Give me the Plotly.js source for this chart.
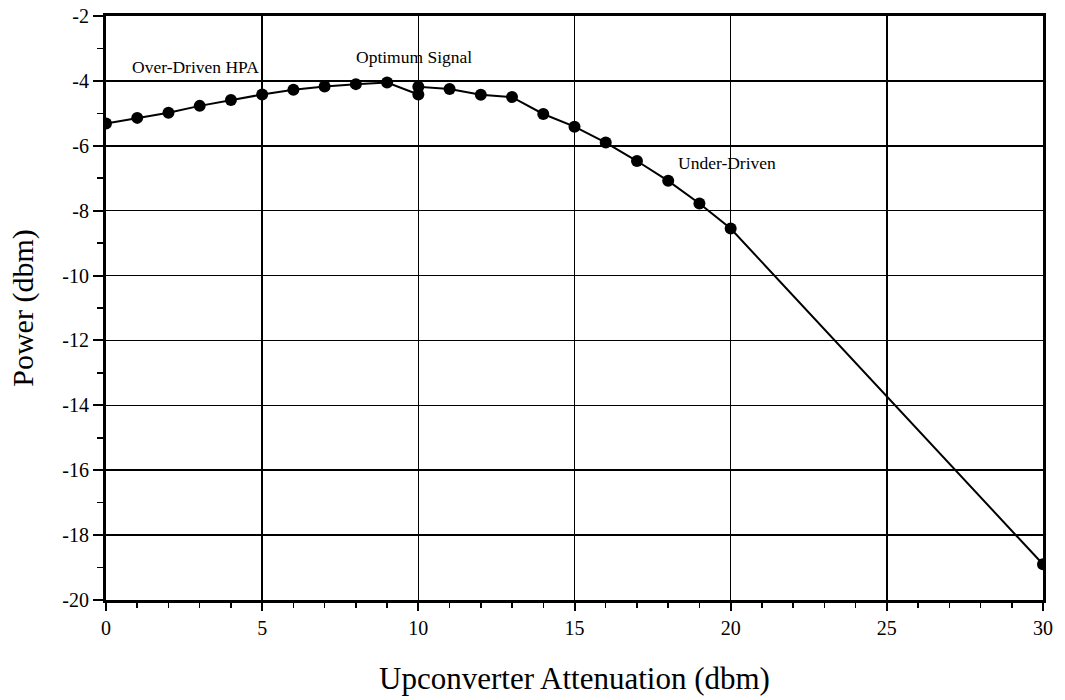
<!DOCTYPE html>
<html>
<head>
<meta charset="utf-8">
<script src="https://cdn.plot.ly/plotly-3.0.1.min.js"></script>
<style>html,body{margin:0;padding:0;background:#fff;}#chart{width:1065px;height:700px;}</style>
</head>
<body>
<div id="chart"></div>
<script>
// Upconverter attenuation (dbm) vs measured power (dbm)
var attenuation = [0, 1, 2, 3, 4, 5, 6, 7, 8, 9, 10, 10, 11, 12, 13, 14, 15, 16, 17, 18, 19, 20, 30];
var power = [-5.31, -5.14, -4.98, -4.77, -4.59, -4.42, -4.27, -4.17, -4.1, -4.05, -4.42, -4.18, -4.25, -4.43, -4.5, -5.02, -5.41, -5.9, -6.47, -7.08, -7.78, -8.55, -18.9];

var xTickVals = [0, 5, 10, 15, 20, 25, 30];
var xTickText = ["0", "5", "10", "15", "20", "25", "30"];
var yTickVals = [-2, -4, -6, -8, -10, -12, -14, -16, -18, -20];
var yTickText = ["-2", "-4", "-6", "-8", "-10", "-12", "-14", "-16", "-18", "-20"];

var noteLabels = ["Over-Driven HPA", "Optimum Signal", "Under-Driven"];
var noteX = [2.85, 9.85, 19.88];
var noteY = [-3.57, -3.26, -6.53];

var serif = "Liberation Serif, Times New Roman, serif";

var trace = {
  x: attenuation,
  y: power,
  type: "scatter",
  mode: "lines+markers",
  line: {color: "#000", width: 2},
  marker: {color: "#000", size: 12},
  cliponaxis: true,
  hoverinfo: "x+y"
};

var annotations = noteLabels.map(function (t, i) {
  return {
    text: t, x: noteX[i], y: noteY[i], xref: "x", yref: "y",
    showarrow: false, font: {family: serif, size: 17.5, color: "#000"},
    xanchor: "center", yanchor: "middle"
  };
});

var axisCommon = {
  showline: true, linecolor: "#000", linewidth: 3, mirror: true,
  showgrid: true, gridcolor: "#000", gridwidth: 1.5,
  zeroline: false, ticks: "outside", tickcolor: "#000", tickwidth: 2,
  tickfont: {family: serif, size: 20, color: "#000"}
};

var layout = {
  width: 1065, height: 700,
  margin: {l: 106, r: 22, t: 16, b: 100},
  paper_bgcolor: "#fff", plot_bgcolor: "#fff",
  showlegend: false,
  xaxis: Object.assign({}, axisCommon, {
    range: [0, 30], tickmode: "array", tickvals: xTickVals, ticktext: xTickText,
    ticklen: 8,
    minor: {tickmode: "linear", tick0: 0, dtick: 1, ticks: "outside", ticklen: 5, tickwidth: 1.5, tickcolor: "#000", showgrid: false},
    title: {text: "Upconverter Attenuation (dbm)", font: {family: serif, size: 31, color: "#000"}, standoff: 30}
  }),
  yaxis: Object.assign({}, axisCommon, {
    range: [-20, -2], tickmode: "array", tickvals: yTickVals, ticktext: yTickText,
    ticklen: 10,
    minor: {tickmode: "linear", tick0: 0, dtick: 1, ticks: "outside", ticklen: 6, tickwidth: 1.5, tickcolor: "#000", showgrid: false},
    title: {text: "Power (dbm)", font: {family: serif, size: 30, color: "#000"}, standoff: 20}
  }),
  annotations: annotations
};

Plotly.newPlot("chart", [trace], layout, {displayModeBar: false, staticPlot: true});
</script>
</body>
</html>
